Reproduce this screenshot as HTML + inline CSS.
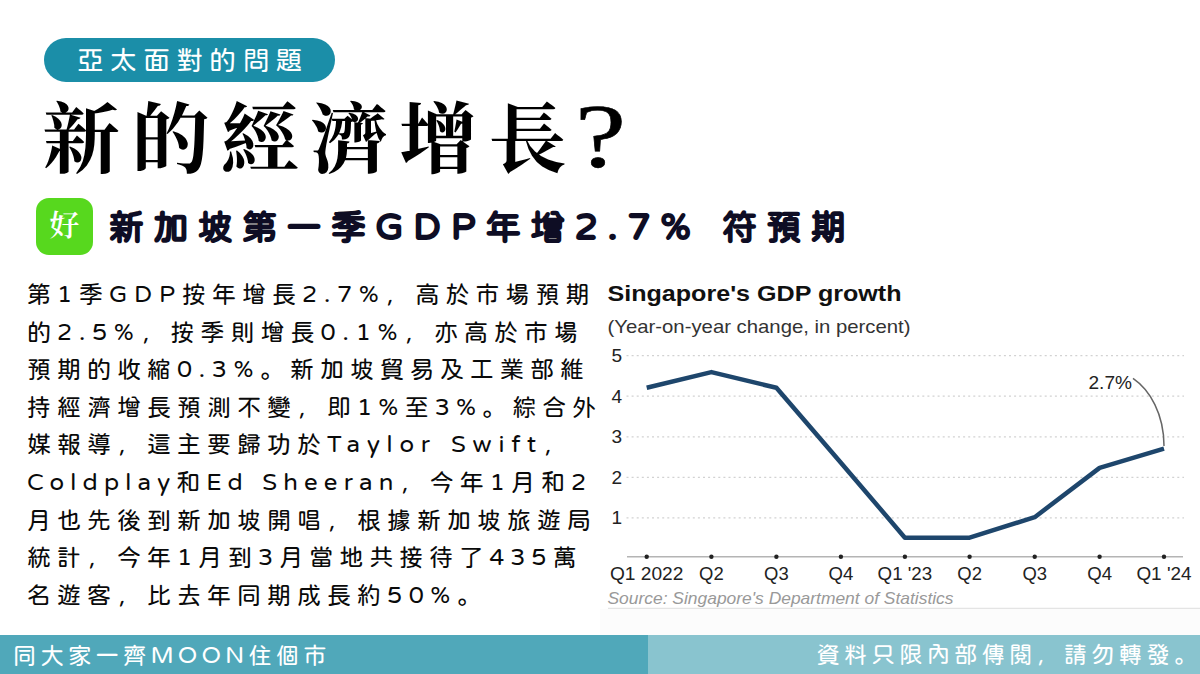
<!DOCTYPE html>
<html lang="zh-Hant">
<head>
<meta charset="utf-8">
<title>新的經濟增長?</title>
<style>
@font-face{font-family:"punc";src:local("Rounded Mplus 1c"),local("Rounded Mplus 1c Regular"),local("M PLUS Rounded 1c"),local("RoundedMplus1c-Regular");unicode-range:U+FF0C,U+3002,U+3001;}
html,body{margin:0;padding:0;}
body{width:1200px;height:674px;position:relative;overflow:hidden;background:#fff;
  font-family:"punc","Huninn","Rounded Mplus 1c","M PLUS Rounded 1c","Liberation Sans","Noto Sans CJK TC",sans-serif;}
.abs{position:absolute;white-space:nowrap;}
#pill{left:44px;top:38px;width:291px;height:44px;border-radius:22px;background:#1b8ea8;}
#pilltxt{left:77px;top:38px;height:44px;line-height:44px;color:#fff;font-size:26.7px;letter-spacing:6.4px;}
#title{left:42.5px;top:74.5px;font-family:"Noto Serif TC","Noto Serif CJK TC","Liberation Serif",serif;font-weight:700;
  font-size:78px;letter-spacing:11.2px;color:#000;line-height:116px;}
#title span{font-family:"Liberation Serif",serif;font-weight:400;font-size:92px;letter-spacing:0;line-height:116px;display:inline-block;transform:scaleX(1.25);transform-origin:0 50%;-webkit-text-stroke:0.6px #000;margin-left:-3px;}
#good{left:36px;top:198px;width:57px;height:57px;border-radius:13px;background:#57d81e;color:#fff;font-family:"Noto Serif TC","Noto Serif CJK TC","Liberation Serif",serif;font-weight:600;font-size:30px;line-height:51px;text-align:center;}
#sub{left:109px;top:200px;font-weight:400;font-size:35px;letter-spacing:9.4px;color:#0e0d24;-webkit-text-stroke:2px #0e0d24;line-height:52px;}
#body{left:27px;top:275px;font-size:24px;letter-spacing:6px;color:#0a0a0a;line-height:37.6px;}
#body div{height:37.6px;}
#sub span{font-size:37.5px;letter-spacing:10.2px;}
.l{font-size:24.6px;letter-spacing:var(--ls,6px);}
#foot1{left:0;top:635px;width:648px;height:39px;background:#50a8ba;}
#foot2{left:648px;top:635px;width:552px;height:39px;background:#89c4cf;}
.ft{color:#fff;font-size:23.3px;letter-spacing:4.2px;line-height:39px;top:635px;}
.ft span{font-size:24.6px;letter-spacing:4.1px;}
#chart{left:596px;top:268px;}
</style>
</head>
<body>
<div class="abs" id="pill"></div>
<div class="abs" id="pilltxt">亞太面對的問題</div>
<div class="abs" id="title">新的經濟增長<span>?</span></div>
<div class="abs" id="good">好</div>
<div class="abs" id="sub">新加坡第一季<span>GDP</span>年增<span>2.7% </span>符預期</div>
<div class="abs" id="body">
<div style="--ls:6.88px">第<span class="l">1</span>季<span class="l">GDP</span>按年增長<span class="l">2.7%</span>，高於市場預期</div>
<div style="--ls:6.90px">的<span class="l">2.5%</span>，按季則增長<span class="l">0.1%</span>，亦高於市場</div>
<div style="--ls:6.75px">預期的收縮<span class="l">0.3%</span>。新加坡貿易及工業部維</div>
<div style="--ls:6.50px">持經濟增長預測不變，即<span class="l">1%</span>至<span class="l">3%</span>。綜合外</div>
<div style="--ls:6.83px">媒報導，這主要歸功於<span class="l">Taylor Swift</span>，</div>
<div style="--ls:6.22px"><span class="l">Coldplay</span>和<span class="l">Ed Sheeran</span>，今年<span class="l">1</span>月和<span class="l">2</span></div>
<div>月也先後到新加坡開唱，根據新加坡旅遊局</div>
<div>統計，今年<span class="l">1</span>月到<span class="l">3</span>月當地共接待了<span class="l">435</span>萬</div>
<div style="--ls:6.67px">名遊客，比去年同期成長約<span class="l">50%</span>。</div>
</div>
<div class="abs" id="foot1"></div>
<div class="abs" id="foot2"></div>
<div class="abs ft" style="left:13px">同大家一齊<span>MOON</span>住個市</div>
<div class="abs ft" style="left:816.5px">資料只限內部傳閱，請勿轉發。</div>
<svg class="abs" id="chart" width="604" height="367" viewBox="596 268 604 367" font-family="Liberation Sans, sans-serif">
<text x="607.5" y="301" font-size="22.6" font-weight="700" fill="#111" textLength="294" lengthAdjust="spacingAndGlyphs">Singapore's GDP growth</text>
<text x="607.5" y="333.3" font-size="18.2" fill="#333" textLength="303" lengthAdjust="spacingAndGlyphs">(Year-on-year change, in percent)</text>
<line x1="626.5" x2="1184" y1="517.9" y2="517.9" stroke="#d2d2d2" stroke-width="1.3" stroke-dasharray="2 3.1"/>
<text x="616.8" y="524.2" font-size="18" text-anchor="middle" fill="#222" textLength="10.6" lengthAdjust="spacingAndGlyphs">1</text>
<line x1="626.5" x2="1184" y1="477.3" y2="477.3" stroke="#d2d2d2" stroke-width="1.3" stroke-dasharray="2 3.1"/>
<text x="616.8" y="483.7" font-size="18" text-anchor="middle" fill="#222" textLength="10.6" lengthAdjust="spacingAndGlyphs">2</text>
<line x1="626.5" x2="1184" y1="436.8" y2="436.8" stroke="#d2d2d2" stroke-width="1.3" stroke-dasharray="2 3.1"/>
<text x="616.8" y="443.1" font-size="18" text-anchor="middle" fill="#222" textLength="10.6" lengthAdjust="spacingAndGlyphs">3</text>
<line x1="626.5" x2="1184" y1="396.2" y2="396.2" stroke="#d2d2d2" stroke-width="1.3" stroke-dasharray="2 3.1"/>
<text x="616.8" y="402.6" font-size="18" text-anchor="middle" fill="#222" textLength="10.6" lengthAdjust="spacingAndGlyphs">4</text>
<line x1="626.5" x2="1184" y1="355.6" y2="355.6" stroke="#d2d2d2" stroke-width="1.3" stroke-dasharray="2 3.1"/>
<text x="616.8" y="362.0" font-size="18" text-anchor="middle" fill="#222" textLength="10.6" lengthAdjust="spacingAndGlyphs">5</text>
<line x1="627" x2="1183" y1="556.7" y2="556.7" stroke="#b4b4b4" stroke-width="1.5"/>
<circle cx="646.7" cy="556.7" r="2.2" fill="#222"/>
<text x="646.7" y="580.3" font-size="18.8" text-anchor="middle" fill="#222" textLength="73.5" lengthAdjust="spacingAndGlyphs">Q1 2022</text>
<circle cx="711.4" cy="556.7" r="2.2" fill="#222"/>
<text x="711.4" y="580.3" font-size="18.8" text-anchor="middle" fill="#222" textLength="24.6" lengthAdjust="spacingAndGlyphs">Q2</text>
<circle cx="776.4" cy="556.7" r="2.2" fill="#222"/>
<text x="776.4" y="580.3" font-size="18.8" text-anchor="middle" fill="#222" textLength="24.6" lengthAdjust="spacingAndGlyphs">Q3</text>
<circle cx="840.9" cy="556.7" r="2.2" fill="#222"/>
<text x="840.9" y="580.3" font-size="18.8" text-anchor="middle" fill="#222" textLength="24.8" lengthAdjust="spacingAndGlyphs">Q4</text>
<circle cx="904.9" cy="556.7" r="2.2" fill="#222"/>
<text x="904.9" y="580.3" font-size="18.8" text-anchor="middle" fill="#222" textLength="54.6" lengthAdjust="spacingAndGlyphs">Q1 '23</text>
<circle cx="969.6" cy="556.7" r="2.2" fill="#222"/>
<text x="969.6" y="580.3" font-size="18.8" text-anchor="middle" fill="#222" textLength="24.6" lengthAdjust="spacingAndGlyphs">Q2</text>
<circle cx="1034.7" cy="556.7" r="2.2" fill="#222"/>
<text x="1034.7" y="580.3" font-size="18.8" text-anchor="middle" fill="#222" textLength="24.6" lengthAdjust="spacingAndGlyphs">Q3</text>
<circle cx="1099.6" cy="556.7" r="2.2" fill="#222"/>
<text x="1099.6" y="580.3" font-size="18.8" text-anchor="middle" fill="#222" textLength="24.8" lengthAdjust="spacingAndGlyphs">Q4</text>
<circle cx="1164.0" cy="556.7" r="2.2" fill="#222"/>
<text x="1164.0" y="580.3" font-size="18.8" text-anchor="middle" fill="#222" textLength="55.2" lengthAdjust="spacingAndGlyphs">Q1 '24</text>
<polyline fill="none" stroke="#1e466c" stroke-width="4.5" stroke-linejoin="round" stroke-linecap="butt" points="646.7,387.8 711.4,372.1 776.4,387.8 840.9,462.7 904.9,537.7 969.6,537.7 1034.7,517.2 1099.6,467.9 1164.0,448.6"/>
<path d="M1133,378.4 C1150,390 1164,414 1164,446" fill="none" stroke="#666" stroke-width="1.5"/>
<text x="1088.5" y="388.6" font-size="18.6" fill="#222" textLength="43.5" lengthAdjust="spacingAndGlyphs">2.7%</text>
<text x="607.5" y="604.1" font-size="16.6" font-style="italic" fill="#999" textLength="346" lengthAdjust="spacingAndGlyphs">Source: Singapore's Department of Statistics</text>
<rect x="600" y="609" width="600" height="26" fill="#fcfcfc"/>
<line x1="608" x2="1200" y1="608.3" y2="608.3" stroke="#e4e4e4" stroke-width="1.2"/>
</svg>
</body>
</html>
